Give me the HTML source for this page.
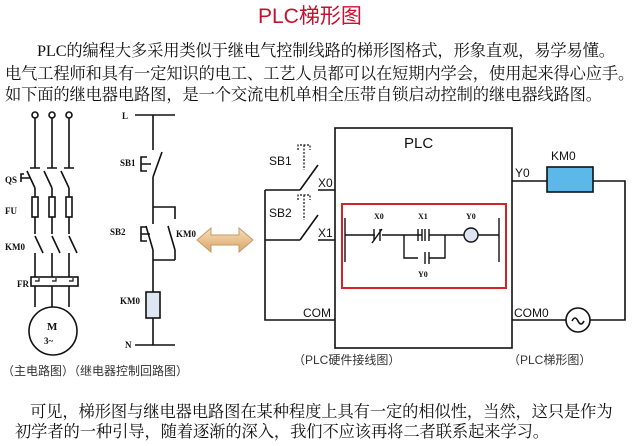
<!DOCTYPE html>
<html><head><meta charset="utf-8"><style>
html,body{margin:0;padding:0;background:#fff;width:640px;height:446px;overflow:hidden;position:relative}
.t{position:absolute;white-space:nowrap;font-family:"Liberation Serif","Noto Serif CJK SC","Noto Sans CJK SC",serif;font-size:16.3px;color:#111;line-height:20px}
</style></head><body>
<div class="t" style="left:258px;top:4px;font-family:'Liberation Sans','Noto Sans CJK SC',sans-serif;font-size:21px;color:#c8102e;line-height:26px">PLC梯形图</div>
<div class="t" style="left:37px;top:41px;letter-spacing:-0.15px">PLC的编程大多采用类似于继电气控制线路的梯形图格式，形象直观，易学易懂。</div>
<div class="t" style="left:5px;top:64px;letter-spacing:-0.15px">电气工程师和具有一定知识的电工、工艺人员都可以在短期内学会，使用起来得心应手。</div>
<div class="t" style="left:5px;top:85px;letter-spacing:-0.15px">如下面的继电器电路图，是一个交流电机单相全压带自锁启动控制的继电器线路图。</div>
<div class="t" style="left:30px;top:402px;letter-spacing:-0.1px">可见，梯形图与继电器电路图在某种程度上具有一定的相似性，当然，这只是作为</div>
<div class="t" style="left:15px;top:422px;letter-spacing:-0.1px">初学者的一种引导，随着逐渐的深入，我们不应该再将二者联系起来学习。</div>
<svg width="640" height="446" style="position:absolute;left:0;top:0" font-family="Liberation Serif, serif" font-weight="bold" font-size="9">
<defs><linearGradient id="g" x1="0" y1="0" x2="0" y2="1"><stop offset="0" stop-color="#f8e0b8"/><stop offset="1" stop-color="#d9a56a"/></linearGradient></defs>
<g stroke="#111" stroke-width="1.6" fill="none">
<!-- main circuit -->
<circle cx="35" cy="115" r="3"/><circle cx="52" cy="115" r="3"/><circle cx="69" cy="115" r="3"/>
<path d="M35 118V168M52 118V168M69 118V168M30 168h10M47 168h10M64 168h10"/>
<path d="M27 171l8 17M44 171l8 17M61 171l8 17M24 174h-3v8M21 178h10"/>
<path d="M35 188V234M52 188V234M69 188V234"/>
<rect x="32" y="197" width="6" height="20" fill="#fff"/><rect x="49" y="197" width="6" height="20" fill="#fff"/><rect x="66" y="197" width="6" height="20" fill="#fff"/>
<path d="M35 236l8 17M52 236l8 17M69 236l8 17M35 253V307M52 253V307M69 253V307"/>
<rect x="31" y="277" width="47" height="9" fill="#fff"/>
<path d="M35 281h4v-3M52 281h4v-3M69 281h4v-3" stroke-width="1.2"/>
<circle cx="53" cy="331" r="24" fill="#fff"/>
<!-- control -->
<path d="M135 115h40M153 115V150M153 177l9 -25M153 177V207h22v12M153 207v17M146 226l7 24M168 226l7 24M153 250V292M175 250v10M153 260h22M153 318V345M135 345h40"/>
<path d="M147 157h-6v14h6M141 164h10M147 227h-6v14h6M141 234h9"/>
<rect x="146" y="292" width="14" height="26" fill="#dde6f2"/>
<!-- PLC -->
<rect x="335" y="128" width="177" height="220"/>
<path d="M265 190V320H335M265 190h35M300 190l18 -25M318 190h17M265 240h35M300 240l18 -25M318 240h17"/>
<path d="M298 150v-5h12v5M304 145v25M298 200v-5h12v5M304 195v25" stroke-dasharray="2 1.5" stroke-width="1.2"/>
<path d="M512 181h35M593 181h32V320H590M566 320H512"/>
<rect x="547" y="167" width="46" height="25" fill="#5cb8e8"/>
<circle cx="578" cy="320" r="12"/>
<path d="M572 321q3 -6 6 0t6 0"/>
<!-- ladder -->
<path d="M345 218v44M499 218v44M345 235h30M382 235h22v23h14M404 235h18M429 235h16v23h-16M418 229v12M422 229v12M429 229v12M425 229v12M425 252v12M429 252v12M374 229v12M380 229v12M372 243l10 -14M445 235h19M478 235h21" stroke-width="1.4"/>
<circle cx="471" cy="235" r="7" fill="#dde4f4" stroke-width="1.4"/>
</g>
<rect x="342" y="204" width="164" height="84" fill="none" stroke="#d2232a" stroke-width="2"/>
<path d="M197 240l14 -12v7h28v-7l14 12l-14 12v-7h-28v7z" fill="url(#g)" stroke="#c99a66"/>
<g fill="#111">
<text x="5" y="183">QS</text><text x="5" y="214">FU</text><text x="5" y="250">KM0</text><text x="17" y="287">FR</text>
<text x="47" y="330" font-size="11">M</text><text x="44" y="344">3~</text>
<text x="122" y="119">L</text><text x="120" y="166">SB1</text><text x="110" y="235">SB2</text><text x="176" y="237">KM0</text>
<text x="120" y="304">KM0</text><text x="125" y="348">N</text>
<text x="374" y="219" font-size="8">X0</text><text x="418" y="219" font-size="8">X1</text><text x="466" y="219" font-size="8">Y0</text><text x="418" y="277" font-size="8">Y0</text>
</g>
<g fill="#111" font-family="Liberation Sans, sans-serif" font-weight="normal" font-size="12">
<text x="404" y="148" font-size="15">PLC</text>
<text x="269" y="165">SB1</text><text x="318" y="187">X0</text>
<text x="269" y="217">SB2</text><text x="318" y="237">X1</text>
<text x="303" y="317">COM</text><text x="514" y="317">COM0</text>
<text x="515" y="177">Y0</text><text x="551" y="160">KM0</text>
</g>
<g fill="#333" font-family="Liberation Sans, Noto Sans CJK SC, sans-serif" font-weight="normal" font-size="12">
<text x="2" y="375">（主电路图）（继电器控制回路图）</text>
<text x="293" y="364">（PLC硬件接线图）</text>
<text x="508" y="364">（PLC梯形图）</text>
</g>
</svg>
</body></html>
